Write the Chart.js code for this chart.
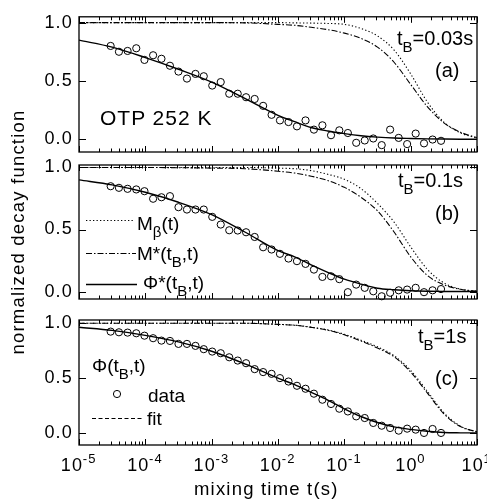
<!DOCTYPE html>
<html><head><meta charset="utf-8">
<script src="https://cdn.jsdelivr.net/npm/chart.js@4.4.1/dist/chart.umd.min.js"></script>
<style>
html,body{margin:0;padding:0;background:#fff;}
#wrap{position:relative;width:487px;height:502px;overflow:hidden;font-family:"Liberation Sans",Arial,Helvetica,sans-serif;color:#000;}
canvas{position:absolute;left:0;top:0;}
.lbl{position:absolute;white-space:nowrap;line-height:1;}
.sb{position:relative;}
</style></head><body>
<div id="wrap">
<canvas id="ca" width="487" height="502"></canvas>
<canvas id="cb" width="487" height="502"></canvas>
<canvas id="cc" width="487" height="502"></canvas>
<div class="lbl" style="left:397px;top:28px;font-size:20px">t<span class="sb" style="font-size:15px;top:7px">B</span>=0.03s</div>
<div class="lbl" style="left:435px;top:60px;font-size:20px">(a)</div>
<div class="lbl" style="left:100px;top:107px;font-size:21px;letter-spacing:1px">OTP 252 K</div>
<div class="lbl" style="left:398px;top:170px;font-size:20px">t<span class="sb" style="font-size:15px;top:7px">B</span>=0.1s</div>
<div class="lbl" style="left:435px;top:203px;font-size:20px">(b)</div>
<div class="lbl" style="left:137px;top:214px;font-size:19px">M<span class="sb" style="font-size:15px;top:7px">β</span>(t)</div>
<div class="lbl" style="left:137px;top:244px;font-size:19px">M*(t<span class="sb" style="font-size:15px;top:7px">B</span>,t)</div>
<div class="lbl" style="left:143px;top:273px;font-size:19px">Φ*(t<span class="sb" style="font-size:15px;top:7px">B</span>,t)</div>
<div class="lbl" style="left:418px;top:326px;font-size:20px">t<span class="sb" style="font-size:15px;top:7px">B</span>=1s</div>
<div class="lbl" style="left:435px;top:368px;font-size:20px">(c)</div>
<div class="lbl" style="left:92px;top:356px;font-size:19px">Φ(t<span class="sb" style="font-size:15px;top:7px">B</span>,t)</div>
<div class="lbl" style="left:148px;top:386px;font-size:19px">data</div>
<div class="lbl" style="left:147px;top:409px;font-size:19px">fit</div>
<div class="lbl" style="left:194px;top:480px;font-size:18.5px;letter-spacing:1.2px">mixing time t(s)</div>
</div>
<script>
// ---- data ----
const mixTimes = [3.0e-5,4.0e-5,5.4e-5,7.3e-5,9.7e-5,1.31e-4,1.75e-4,2.35e-4,3.16e-4,4.24e-4,
  5.7e-4,7.6e-4,1.02e-3,1.37e-3,1.84e-3,2.47e-3,3.3e-3,4.45e-3,5.97e-3,8.0e-3,
  1.07e-2,1.44e-2,1.93e-2,2.6e-2,3.48e-2,4.67e-2,6.3e-2,8.4e-2,0.113,0.151,
  0.203,0.273,0.366,0.49,0.66,0.885,1.19,1.59,2.14,2.87];
const dataA = [0.80,0.75,0.757,0.78,0.68,0.72,0.69,0.63,0.58,0.52,0.56,0.54,0.46,0.49,0.39,0.39,0.36,
  0.345,0.286,0.209,0.161,0.147,0.11,0.161,0.082,0.119,0.034,0.076,0.053,-0.031,-0.011,0.006,-0.051,
  0.082,0.011,-0.042,0.048,-0.036,-0.003,-0.014];
const dataB = [0.849,0.836,0.828,0.823,0.809,0.748,0.76,0.769,0.68,0.661,0.661,0.661,0.602,0.54,0.494,0.492,0.478,
  0.44,0.357,0.339,0.304,0.266,0.245,0.223,0.177,0.118,0.123,0.10,-0.005,0.056,0.03,0.002,-0.038,
  -0.01,0.01,0.016,0.03,-0.005,0.01,0.02];
const dataC = [0.924,0.918,0.915,0.909,0.887,0.864,0.842,0.839,0.812,0.812,0.794,0.764,0.742,0.727,0.69,0.66,0.636,
  0.582,0.555,0.539,0.50,0.469,0.43,0.403,0.358,0.303,0.264,0.221,0.196,0.151,0.136,0.091,0.066,
  0.045,0.021,0.039,0.03,0.0,0.036,0.0];

const curveTimes = [1e-5,3.16e-5,1e-4,3.16e-4,1e-3,3.16e-3,1e-2,1.78e-2,3.16e-2,5.62e-2,
  0.1,0.178,0.316,0.562,1,1.78,3.16,5.62,10];
const phiA   = [0.85,0.79,0.70,0.60,0.49,0.35,0.205,0.15,0.10,0.07,0.048,0.03,0.018,0.01,0.006,0.003,0.001,0,0];
const mBetaA = [1,1,1,1,1,1,1,0.998,0.996,0.993,0.985,0.95,0.886,0.765,0.56,0.32,0.147,0.054,0.01];
const mStarA = [1,1,1,1,1,0.998,0.985,0.977,0.96,0.94,0.91,0.865,0.79,0.66,0.47,0.28,0.14,0.06,0.014];
const phiB   = [0.90,0.86,0.80,0.72,0.62,0.48,0.33,0.28,0.215,0.155,0.10,0.06,0.027,0.015,0.007,0.003,0.001,0,0];
const mBetaB = [1,1,1,1,1,1,0.995,0.99,0.975,0.945,0.905,0.83,0.71,0.56,0.36,0.18,0.07,0.02,0.003];
const mStarB = [1,1,1,0.998,0.995,0.99,0.97,0.955,0.93,0.895,0.84,0.76,0.65,0.48,0.28,0.13,0.055,0.018,0.002];
const phiC   = [0.964,0.935,0.89,0.83,0.745,0.63,0.50,0.44,0.37,0.30,0.22,0.15,0.095,0.055,0.032,0.015,0.004,0.001,0];
const mBetaC = [1,1,1,1,1,1,0.99,0.983,0.965,0.94,0.90,0.845,0.785,0.705,0.57,0.38,0.185,0.062,0.01];
const mStarC = [1,1,1,1,1,1,0.99,0.982,0.963,0.937,0.895,0.838,0.775,0.695,0.555,0.365,0.175,0.058,0.01];

const xTickValues = [1e-5,1e-4,1e-3,1e-2,1e-1,1,10];
const xTickBase = '10';
const xTickExponents = ['-5','-4','-3','-2','-1','0','1'];
const minorMultipliers = [2,3,4,5,6,7,8,9];
const yTickValues = [0,0.5,1.0];
const yTickLabels = ['0.0','0.5','1.0'];

// ---- drawing ----
const FONT = '"Liberation Sans", Arial, Helvetica, sans-serif';
const SPACING = '1.2px';
const pts = (xs, ys) => xs.map((x, i) => ({x: x, y: ys[i]}));

const spacingPlugin = {
  id: 'spacing',
  beforeUpdate(chart) { chart.ctx.letterSpacing = SPACING; },
  beforeLayout(chart) { chart.ctx.letterSpacing = SPACING; },
  beforeDraw(chart) { chart.ctx.letterSpacing = SPACING; }
};

const framePlugin = {
  id: 'frame',
  afterDatasetsDraw(chart) {
    const {ctx, chartArea: {left, right, top, bottom}, scales: {x, y}} = chart;
    ctx.save();
    ctx.strokeStyle = '#000';
    ctx.lineWidth = 1.3;
    ctx.strokeRect(left, top, right - left, bottom - top);
    ctx.lineWidth = 1;
    ctx.beginPath();
    xTickValues.forEach((d, i) => {
      const p = Math.round(x.getPixelForValue(d)) + 0.5;
      ctx.moveTo(p, bottom); ctx.lineTo(p, bottom - 6);
      ctx.moveTo(p, top); ctx.lineTo(p, top + 6);
      if (i < xTickValues.length - 1) {
        minorMultipliers.forEach(m => {
          const q = Math.round(x.getPixelForValue(d * m)) + 0.5;
          ctx.moveTo(q, bottom); ctx.lineTo(q, bottom - 3.5);
          ctx.moveTo(q, top); ctx.lineTo(q, top + 3.5);
        });
      }
    });
    yTickValues.forEach(v => {
      const p = Math.round(y.getPixelForValue(v)) + 0.5;
      ctx.moveTo(left, p); ctx.lineTo(left + 7, p);
      ctx.moveTo(right, p); ctx.lineTo(right - 7, p);
    });
    ctx.stroke();
    ctx.restore();
  }
};

const xLabelPlugin = {
  id: 'xlabels',
  afterDraw(chart, args, opts) {
    if (!opts || !opts.show) return;
    const {ctx, chartArea: {bottom}, scales: {x}} = chart;
    ctx.save();
    ctx.fillStyle = '#000';
    ctx.letterSpacing = SPACING;
    ctx.textBaseline = 'alphabetic';
    ctx.textAlign = 'left';
    const bigF = '18px ' + FONT, smallF = '13px ' + FONT;
    xTickValues.forEach((v, i) => {
      const px = x.getPixelForValue(v);
      ctx.font = bigF;
      const wb = ctx.measureText(xTickBase).width;
      ctx.font = smallF;
      const we = ctx.measureText(xTickExponents[i]).width;
      const x0 = px - (wb + we) / 2;
      ctx.font = bigF;
      ctx.fillText(xTickBase, x0, bottom + 26);
      ctx.font = smallF;
      ctx.fillText(xTickExponents[i], x0 + wb - 0.5, bottom + 18);
    });
    ctx.restore();
  }
};

const samplePlugin = {
  id: 'samples',
  afterDraw(chart, args, opts) {
    if (!opts || !opts.lines) return;
    const ctx = chart.ctx;
    ctx.save();
    ctx.strokeStyle = '#000';
    opts.lines.forEach(l => {
      ctx.lineWidth = l.w || 1;
      ctx.setLineDash(l.dash || []);
      ctx.beginPath(); ctx.moveTo(l.x0, l.y); ctx.lineTo(l.x1, l.y); ctx.stroke();
    });
    ctx.setLineDash([]);
    (opts.circles || []).forEach(c => {
      ctx.lineWidth = 1;
      ctx.beginPath(); ctx.arc(c.x, c.y, 3.6, 0, Math.PI * 2); ctx.stroke();
    });
    ctx.restore();
  }
};

const DOT = [1.3, 2.2];
const DASHDOT = [6, 2, 1.5, 2];
const DASH = [4, 2.5];

function makePanel(id, cfg) {
  const lineDs = (ys, dash, w) => ({
    data: pts(curveTimes, ys), borderColor: '#000', borderWidth: w, borderDash: dash,
    pointRadius: 0, fill: false, cubicInterpolationMode: 'monotone'
  });
  new Chart(document.getElementById(id), {
    type: 'line',
    data: {
      datasets: [
        lineDs(cfg.mBeta, DOT, 1.1),
        lineDs(cfg.mStar, DASHDOT, 1.1),
        lineDs(cfg.phi, [], 1.4),
        {
          data: pts(mixTimes, cfg.data), showLine: false, pointRadius: 3.6, pointHoverRadius: 3.6,
          pointBorderWidth: 1, pointBorderColor: '#000', pointBackgroundColor: 'rgba(0,0,0,0)', clip: false
        }
      ]
    },
    options: {
      responsive: false, animation: false, devicePixelRatio: 1,
      layout: {padding: {left: 0, right: 10, top: cfg.top, bottom: cfg.bottom}, autoPadding: false},
      plugins: {legend: {display: false}, tooltip: {enabled: false},
                samples: cfg.samples || {}, xlabels: {show: cfg.showX}},
      scales: {
        x: {
          type: 'logarithmic', min: 1e-5, max: 10, display: cfg.showX,
          afterBuildTicks: s => { s.ticks = xTickValues.map(v => ({value: v})); },
          afterFit: s => { if (cfg.showX) s.height = 57; },
          grid: {display: false, drawTicks: false}, border: {display: false},
          ticks: {display: false},
          title: {display: false}
        },
        y: {
          type: 'linear', min: cfg.ymin, max: cfg.ymax,
          afterBuildTicks: s => { s.ticks = yTickValues.map(v => ({value: v})); },
          afterFit: s => { s.width = 79; },
          grid: {display: false, drawTicks: false}, border: {display: false},
          ticks: {callback: (v, i) => yTickLabels[i], color: '#000', font: {family: FONT, size: 18}, padding: 6},
          title: {display: !!cfg.yTitle, text: cfg.yTitle || '', color: '#000',
                  font: {family: FONT, size: 18.5}, padding: {top: 8, bottom: 0}}
        }
      }
    },
    plugins: [spacingPlugin, framePlugin, xLabelPlugin, samplePlugin]
  });
}

makePanel('ca', {top: 15, bottom: 350, ymin: -0.11, ymax: 1.05, showX: false,
  data: dataA, phi: phiA, mBeta: mBetaA, mStar: mStarA});
makePanel('cb', {top: 165, bottom: 203, ymin: -0.06, ymax: 1.02, showX: false,
  data: dataB, phi: phiB, mBeta: mBetaB, mStar: mStarB, yTitle: 'normalized decay function',
  samples: {lines: [{x0: 86, x1: 133, y: 220.5, dash: DOT, w: 1.1},
                    {x0: 86, x1: 136, y: 253.5, dash: DASHDOT, w: 1.1},
                    {x0: 86, x1: 137, y: 284.5, dash: [], w: 1.4}]}});
makePanel('cc', {top: 320, bottom: 0, ymin: -0.11, ymax: 1.03, showX: true,
  data: dataC, phi: phiC, mBeta: mBetaC, mStar: mStarC,
  samples: {lines: [{x0: 92, x1: 143, y: 418.5, dash: DASH, w: 1.1}], circles: [{x: 117, y: 394}]}});
</script>
</body></html>
